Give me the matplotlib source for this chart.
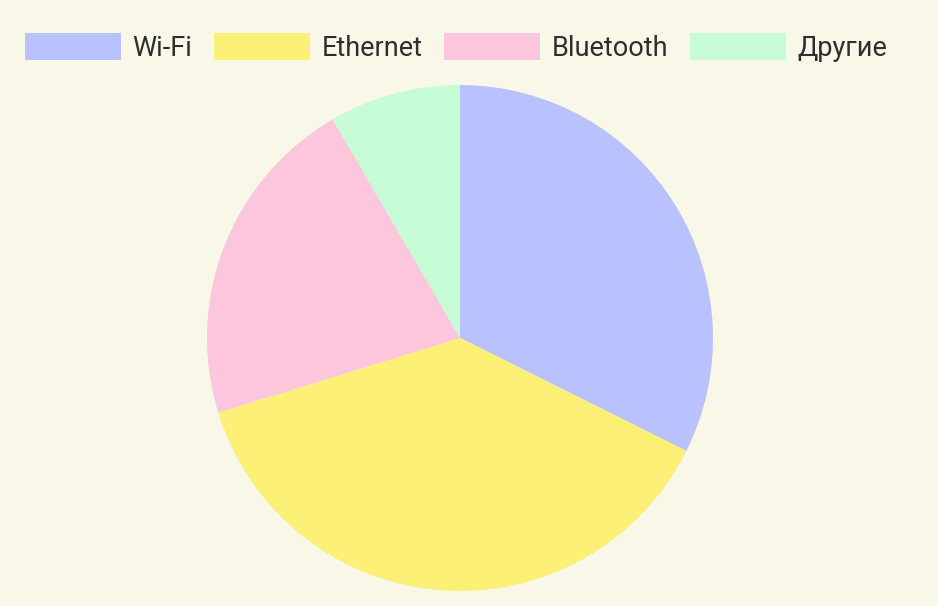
import matplotlib.pyplot as plt
from matplotlib.patches import Patch

# data (shares, %)
labels = ['Wi-Fi', 'Ethernet', 'Bluetooth', 'Другие']
shares = [32.4, 37.9, 21.4, 8.4]
colors = ['#b9c2fe', '#fdf077', '#fec6dc', '#c6fcd6']

bg = '#f9f7e8'
plt.rcParams['font.family'] = ['Roboto', 'DejaVu Sans']

fig = plt.figure(figsize=(9.38, 6.06), dpi=100, facecolor=bg)

# pie: center ~ (460, 338) px, radius ~ 253 px
cx, cy, r = 460, 338, 253
ax = fig.add_axes([(cx - r) / 938, (606 - cy - r) / 606, 2 * r / 938, 2 * r / 606])
ax.set_facecolor(bg)
ax.pie(shares, colors=colors, startangle=90, counterclock=False, radius=1,
       wedgeprops=dict(linewidth=0))
ax.set_xlim(-1, 1)
ax.set_ylim(-1, 1)
ax.set_aspect('equal')
ax.axis('off')

# legend along the top
handles = [Patch(facecolor=c, edgecolor='none') for c in colors]
fig.legend(handles, labels, loc='center', bbox_to_anchor=(456 / 938, 1 - 47.5 / 606),
           ncol=4, frameon=False, fontsize=19.5, labelcolor='#2e2e2e',
           handlelength=3.55, handleheight=1.18, handletextpad=0.44,
           columnspacing=0.78, borderpad=0, borderaxespad=0)

fig.savefig('out.png', dpi=100, facecolor=bg)
